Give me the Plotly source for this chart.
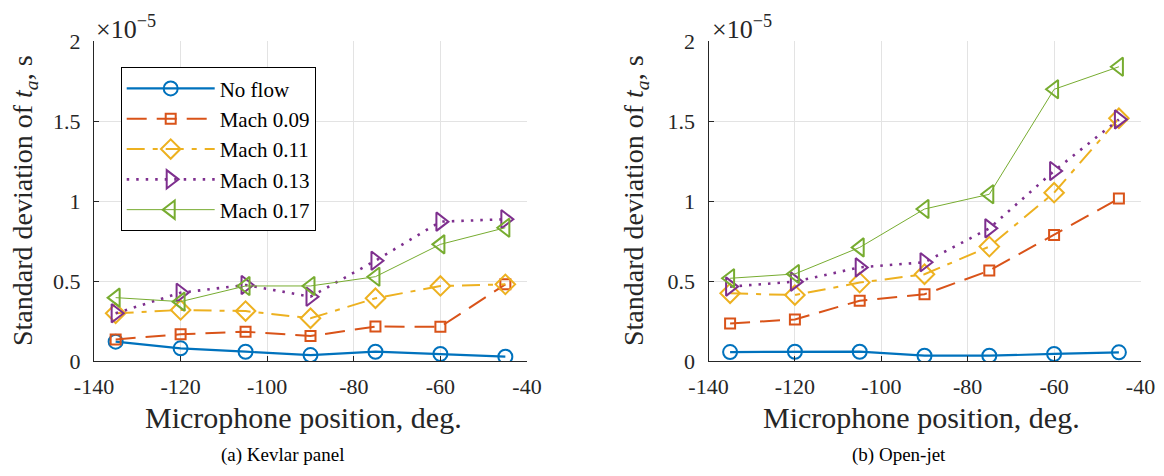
import plotly.graph_objects as go

# Microphone positions (deg.)
positions = [-135, -120, -105, -90, -75, -60, -45]

# Standard deviation of t_a, in units of 1e-5 s
series_names = ["No flow", "Mach 0.09", "Mach 0.11", "Mach 0.13", "Mach 0.17"]

kevlar_noflow = [0.121, 0.079, 0.058, 0.037, 0.058, 0.044, 0.027]
kevlar_m009 = [0.135, 0.167, 0.183, 0.156, 0.215, 0.214, 0.479]
kevlar_m011 = [0.298, 0.319, 0.312, 0.267, 0.392, 0.469, 0.479]
kevlar_m013 = [0.298, 0.427, 0.475, 0.402, 0.627, 0.871, 0.886]
kevlar_m017 = [0.396, 0.371, 0.469, 0.469, 0.527, 0.729, 0.833]

openjet_noflow = [0.056, 0.058, 0.058, 0.033, 0.033, 0.044, 0.054]
openjet_m009 = [0.235, 0.260, 0.377, 0.417, 0.565, 0.788, 1.015]
openjet_m011 = [0.423, 0.412, 0.490, 0.542, 0.715, 1.052, 1.517]
openjet_m013 = [0.465, 0.496, 0.585, 0.617, 0.829, 1.188, 1.510]
openjet_m017 = [0.517, 0.544, 0.710, 0.950, 1.042, 1.698, 1.839]

x_ticks = [-140, -120, -100, -80, -60, -40]
x_ticklabels = ["-140", "-120", "-100", "-80", "-60", "-40"]
y_ticks = [0, 0.5, 1, 1.5, 2]
y_ticklabels = ["0", "0.5", "1", "1.5", "2"]

captions = ["(a) Kevlar panel", "(b) Open-jet"]

colors = ["#0072BD", "#D95319", "#EDB120", "#7E2F8E", "#77AC30"]
symbols = ["circle-open", "square-open", "diamond-open", "triangle-right-open", "triangle-left-open"]
msizes = [14, 10, 15, 16, 16]
dashes = ["solid", "20px,10px", "18px,8px,5px,8px", "2.5px,7px", "solid"]
lwidths = [2.2, 2, 2, 2.6, 1]

# page has an 8px body margin; figure drawn inside the 1164x476 window
OFF = 8
W, H = 1164 - OFF, 476 - OFF
FONT = "Liberation Serif"

fig = go.Figure()

panels = [
    (positions, [kevlar_noflow, kevlar_m009, kevlar_m011, kevlar_m013, kevlar_m017], "x", "y", True),
    (positions, [openjet_noflow, openjet_m009, openjet_m011, openjet_m013, openjet_m017], "x2", "y2", False),
]

for xs, ys_list, xa, ya, show in panels:
    for i, (name, ys) in enumerate(zip(series_names, ys_list)):
        fig.add_trace(go.Scatter(
            x=xs, y=ys, name=name, mode="lines+markers",
            xaxis=xa, yaxis=ya, showlegend=show,
            line=dict(color=colors[i], width=lwidths[i], dash=dashes[i]),
            marker=dict(symbol=symbols[i], size=msizes[i], color=colors[i],
                        line=dict(color=colors[i], width=2)),
        ))

def px_x(p):
    return (p - OFF) / W

def px_y(p):
    return 1 - (p - OFF) / H

axis_common = dict(
    showline=True, linecolor="#262626", linewidth=1.2, mirror=False,
    showgrid=True, gridcolor="#e3e3e3", gridwidth=1,
    ticks="inside", ticklen=5, tickcolor="#262626",
    tickfont=dict(family=FONT, size=22, color="#262626"),
    zeroline=False, automargin=False,
)

fig.update_layout(
    template="none",
    width=W, height=H,
    margin=dict(l=0, r=0, t=0, b=0, pad=0),
    paper_bgcolor="white", plot_bgcolor="white",
    xaxis=dict(domain=[px_x(94), px_x(527)], range=[-140, -40], tickvals=x_ticks,
               ticktext=x_ticklabels, anchor="y", ticklabelstandoff=5, **axis_common),
    yaxis=dict(domain=[px_y(361), px_y(41)], range=[0, 2], tickvals=y_ticks,
               ticktext=y_ticklabels, anchor="x", ticklabelstandoff=8, **axis_common),
    xaxis2=dict(domain=[px_x(708.5), px_x(1140.5)], range=[-140, -40], tickvals=x_ticks,
                ticktext=x_ticklabels, anchor="y2", ticklabelstandoff=5, **axis_common),
    yaxis2=dict(domain=[px_y(361), px_y(41)], range=[0, 2], tickvals=y_ticks,
                ticktext=y_ticklabels, anchor="x2", ticklabelstandoff=8, **axis_common),
    legend=dict(
        x=px_x(120.7), y=px_y(67.3), xanchor="left", yanchor="top",
        bgcolor="white", bordercolor="#000000", borderwidth=1,
        font=dict(family=FONT, size=21, color="#000000"),
        itemwidth=88, tracegroupgap=0,
    ),
    font=dict(family=FONT, color="#262626"),
)

ann = []
for xc in [24, 635]:
    ann.append(dict(x=px_x(xc), y=px_y(201), xref="paper", yref="paper",
                    text="Standard deviation of <i>t<sub>a</sub></i>, s", textangle=-90,
                    showarrow=False, xanchor="center", yanchor="middle",
                    font=dict(family=FONT, size=28, color="#262626")))
for xc in [303, 921]:
    ann.append(dict(x=px_x(xc), y=px_y(417), xref="paper", yref="paper",
                    text="Microphone position, deg.", showarrow=False,
                    xanchor="center", yanchor="middle",
                    font=dict(family=FONT, size=30, color="#262626")))
for xl in [94, 710]:
    ann.append(dict(x=px_x(xl), y=px_y(9), xref="paper", yref="paper",
                    text="×10<sup>−5</sup>", showarrow=False,
                    xanchor="left", yanchor="top",
                    font=dict(family=FONT, size=26, color="#262626")))
for xc, cap in zip([282, 899], captions):
    ann.append(dict(x=px_x(xc), y=px_y(455), xref="paper", yref="paper",
                    text=cap, showarrow=False, xanchor="center", yanchor="middle",
                    font=dict(family=FONT, size=19, color="#000000")))
fig.update_layout(annotations=ann)

fig.write_html("out.html")
